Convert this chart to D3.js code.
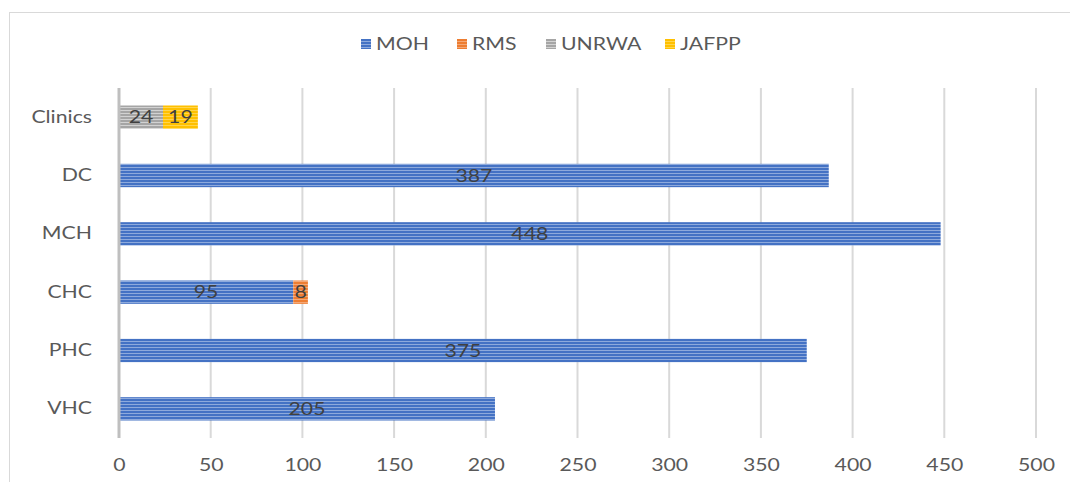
<!DOCTYPE html>
<html>
<head>
<meta charset="utf-8">
<script src="https://cdn.jsdelivr.net/npm/d3@7"></script>
<style>
  html, body { margin: 0; padding: 0; background: #fff; }
  svg { display: block; }
  text { font-family: Lato, "Open Sans", sans-serif; }
</style>
</head>
<body>
<svg id="chart" width="1070" height="482"></svg>
<script>
// Facility types (top to bottom) and counts per provider
const categories = ["Clinics", "DC", "MCH", "CHC", "PHC", "VHC"];
const seriesNames = ["MOH", "RMS", "UNRWA", "JAFPP"];
const moh   = [0, 387, 448, 95, 375, 205];
const rms   = [0, 0, 0, 8, 0, 0];
const unrwa = [24, 0, 0, 0, 0, 0];
const jafpp = [19, 0, 0, 0, 0, 0];
const xTicks = [0, 50, 100, 150, 200, 250, 300, 350, 400, 450, 500];

const colors = {
  MOH:   { base: "#4472c4", light: "#8eaadc" },
  RMS:   { base: "#ed7d31", light: "#f4a877" },
  UNRWA: { base: "#a5a5a5", light: "#d2d2d2" },
  JAFPP: { base: "#ffc000", light: "#ffd54d" }
};

// Horizontal widening applied to all text
const SX = 1.25;

const rows = categories.map((c, i) => ({
  category: c, MOH: moh[i], RMS: rms[i], UNRWA: unrwa[i], JAFPP: jafpp[i]
}));

const svg = d3.select("#chart");

// Striped fills for each series
const defs = svg.append("defs");
seriesNames.forEach(name => {
  const p = defs.append("pattern")
    .attr("id", "pat-" + name)
    .attr("patternUnits", "userSpaceOnUse")
    .attr("width", 8).attr("height", 3);
  p.append("rect").attr("width", 8).attr("height", 3).attr("fill", colors[name].base);
  p.append("rect").attr("y", 2).attr("width", 8).attr("height", 1).attr("fill", colors[name].light);
});

// Outer chart frame
svg.append("rect")
  .attr("x", 9.5).attr("y", 12.5)
  .attr("width", 1080).attr("height", 500)
  .attr("fill", "none").attr("stroke", "#d9d9d9").attr("stroke-width", 1);

const x = d3.scaleLinear().domain([0, 500]).range([119, 1036]);
const y = d3.scaleBand().domain(categories).range([88, 438]).paddingInner(0.6).paddingOuter(0.3);

// Vertical gridlines
svg.append("g")
  .selectAll("line")
  .data(xTicks.filter(t => t > 0))
  .join("line")
  .attr("x1", d => x(d)).attr("x2", d => x(d))
  .attr("y1", 88).attr("y2", 438)
  .attr("stroke", "#d9d9d9").attr("stroke-width", 2);

// Bottom axis tick labels
const xAxis = d3.axisBottom(x).tickValues(xTicks).tickSize(0).tickPadding(0);
const gx = svg.append("g").attr("transform", "translate(0,459)").call(xAxis);
gx.select(".domain").remove();
gx.selectAll("text")
  .attr("fill", "#595959")
  .style("font-size", "17px")
  .attr("dy", "0.71em")
  .attr("transform", `scale(${SX},1)`);

// Category labels
const yAxis = d3.axisLeft(y).tickSize(0).tickPadding(0);
const gy = svg.append("g").attr("transform", "translate(92,0)").call(yAxis);
gy.select(".domain").remove();
gy.selectAll("text")
  .attr("fill", "#595959")
  .style("font-size", "17px")
  .attr("transform", `scale(${SX},1)`);

// Stacked bars
const stack = d3.stack().keys(seriesNames);
const layers = stack(rows);

const gBars = svg.append("g");
layers.forEach(layer => {
  const name = layer.key;
  gBars.append("g")
    .selectAll("rect")
    .data(layer.filter(d => d[1] - d[0] > 0))
    .join("rect")
    .attr("x", d => x(d[0]))
    .attr("y", d => y(d.data.category))
    .attr("width", d => x(d[1]) - x(d[0]))
    .attr("height", y.bandwidth())
    .attr("fill", "url(#pat-" + name + ")");
});

// Zero baseline
svg.append("line")
  .attr("x1", x(0)).attr("x2", x(0))
  .attr("y1", 88).attr("y2", 438)
  .attr("stroke", "#bfbfbf").attr("stroke-width", 3);

// Value labels centred in each segment
const gLabels = svg.append("g");
layers.forEach(layer => {
  gLabels.append("g")
    .selectAll("text")
    .data(layer.filter(d => d[1] - d[0] > 0))
    .join("text")
    .attr("transform", d =>
      `translate(${(x(d[0]) + x(d[1])) / 2},${y(d.data.category) + y.bandwidth() / 2}) scale(${SX},1)`)
    .attr("dy", "0.36em")
    .attr("text-anchor", "middle")
    .attr("fill", "#404040")
    .style("font-size", "17px")
    .text(d => d[1] - d[0]);
});

// Legend
const legendItems = [
  { name: "MOH", x: 361 },
  { name: "RMS", x: 457 },
  { name: "UNRWA", x: 546 },
  { name: "JAFPP", x: 665 }
];
const gLeg = svg.append("g");
legendItems.forEach(it => {
  gLeg.append("rect")
    .attr("x", it.x).attr("y", 39)
    .attr("width", 10).attr("height", 10)
    .attr("fill", "url(#pat-" + it.name + ")");
  gLeg.append("text")
    .attr("transform", `translate(${it.x + 15},44) scale(${SX},1)`)
    .attr("dy", "0.36em")
    .attr("fill", "#595959")
    .style("font-size", "17px")
    .text(it.name);
});
</script>
</body>
</html>
